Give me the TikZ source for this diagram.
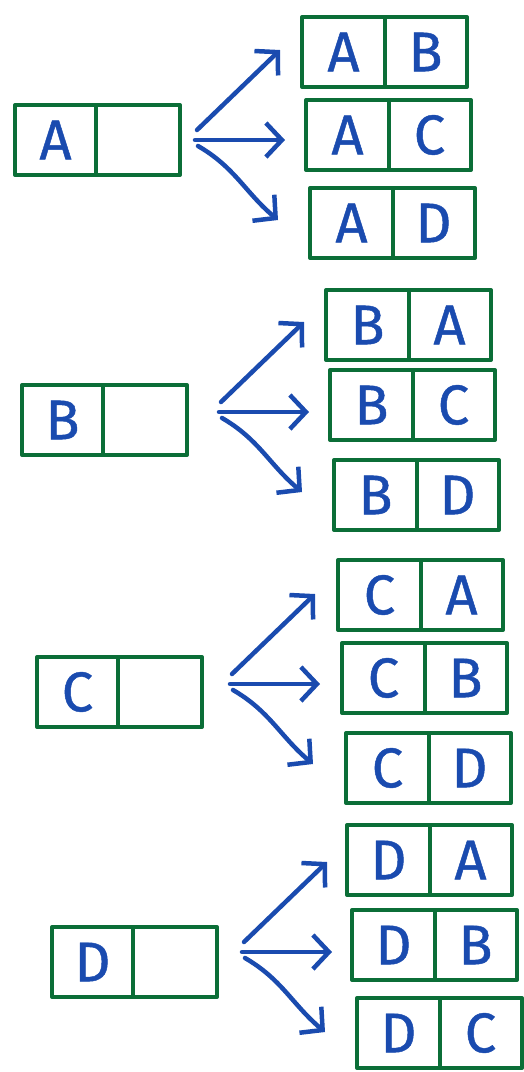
\documentclass[tikz,border=0pt]{standalone}
\usepackage{fontspec}
\newfontfamily\handfont[FakeBold=0.8]{Fira Sans}
\usetikzlibrary{arrows.meta,calc}
\definecolor{pgreen}{HTML}{0B6E37}
\definecolor{pblue}{HTML}{1A4BAF}
\tikzset{
 cellbox/.style={draw=pgreen, line width=4pt, line join=round, minimum width=165pt, minimum height=70pt, anchor=north west, inner sep=0pt, outer sep=0pt},
 divider/.style={draw=pgreen, line width=4pt},
 letter/.style={text=pblue, font=\handfont\fontsize{56}{56}\selectfont, inner sep=0pt},
 arr/.style={draw=pblue, line width=4.5pt, line cap=round, line join=round, -{Straight Barb[length=16pt,width=34pt]}},
}
\newcommand\twocell[5]{%
 \node[cellbox] (#1) at (#2,#3) {};
 \draw[divider] (#1.north) -- (#1.south);
 \node[letter] (#1l) at ($(#1.center)+(-41,0)$) {#4};
 \node[letter] (#1r) at ($(#1.center)+(41,0)$) {#5};
}
\newcommand\leftcell[4]{%
 \node[cellbox] (#1) at (#2,#3) {};
 \draw[divider] ($(#1.north)+(-2,0)$) coordinate (#1dt) -- ($(#1.south)+(-2,0)$) coordinate (#1db);
 \node[letter] (#1l) at ($(#1.center)+(-42,0)$) {#4};
}
\newcommand\fan[3]{%
 \coordinate (#1s) at ($(#1.east)+(#2,#3)$);
 \coordinate (#1su) at ($(#1s)+(2,-10)$);
 \coordinate (#1eu) at ($(#1s)+(85,-90)$);
 \coordinate (#1em) at ($(#1s)+(90,0)$);
 \coordinate (#1sd) at ($(#1s)+(3,6)$);
 \coordinate (#1ed) at ($(#1s)+(83,80)$);
 \draw[arr] (#1su) -- (#1eu);
 \draw[arr] (#1s) -- (#1em);
 \draw[arr] (#1sd) to[out=-30,in=140] (#1ed);
}
\begin{document}
\begin{tikzpicture}[x=1pt,y=-1pt]
\useasboundingbox (0,0) rectangle (524,1072);
% group A
\leftcell{A}{15}{105}{A}
\twocell{AB}{302}{17}{A}{B}
\twocell{AC}{306}{100}{A}{C}
\twocell{AD}{310}{188}{A}{D}
\fan{A}{15}{0}
% group B
\leftcell{B}{22}{385}{B}
\twocell{BA}{326}{290}{B}{A}
\twocell{BC}{330}{370}{B}{C}
\twocell{BD}{334}{460}{B}{D}
\fan{B}{32}{-8}
% group C
\leftcell{C}{37}{657}{C}
\twocell{CA}{338}{560}{C}{A}
\twocell{CB}{342}{643}{C}{B}
\twocell{CD}{346}{733}{C}{D}
\fan{C}{28}{-8}
% group D
\leftcell{D}{52}{927}{D}
\twocell{DA}{347}{825}{D}{A}
\twocell{DB}{352}{910}{D}{B}
\twocell{DC}{357}{998}{D}{C}
\fan{D}{25}{-10}
\end{tikzpicture}
\end{document}
